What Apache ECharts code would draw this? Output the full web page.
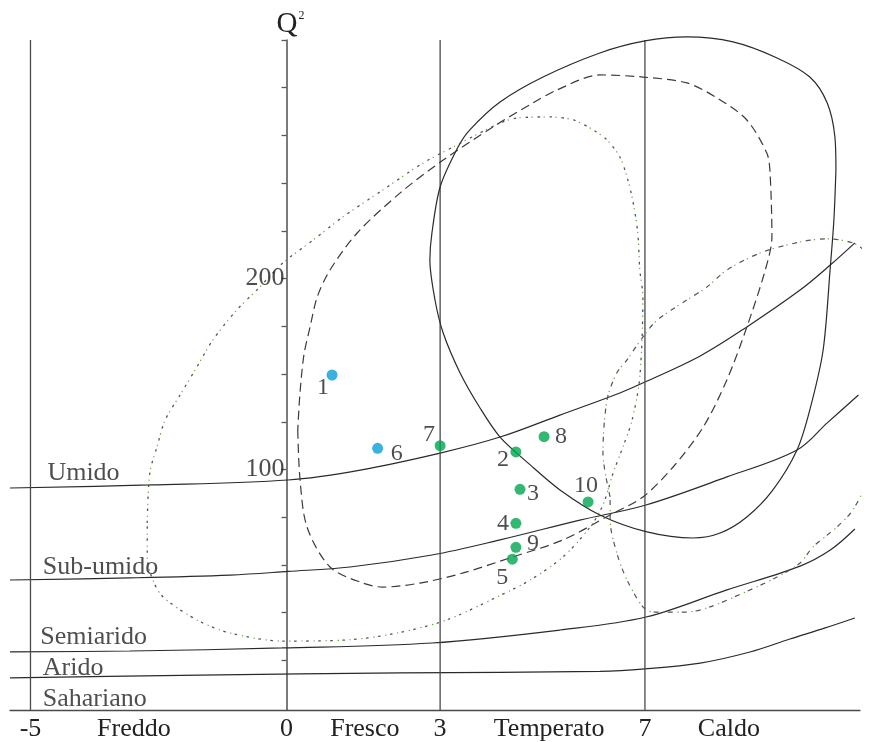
<!DOCTYPE html>
<html><head><meta charset="utf-8">
<script src="https://cdn.jsdelivr.net/npm/echarts@6/dist/echarts.min.js"></script>
<style>html,body{margin:0;padding:0;background:#fff}#c{width:876px;height:742px}</style>
</head><body><div id="c"></div><script>
// ---- axes ----
const xMin = -5.4, xMax = 11.2, yMin = -26, yMax = 325;
const yTickValues = [0,25,50,75,100,125,150,175,200,225,250,275,300,325];
const yLabelValues = [100, 200];
const xLabelValues = [-5, -2.98, 0, 1.53, 3, 5.13, 7, 8.64];
const xLabelTexts  = ['-5', 'Freddo', '0', 'Fresco', '3', 'Temperato', '7', 'Caldo'];
const zoneBounds = [-5, 3, 7];

// ---- bioclimatic boundary curves (x = m, y = Q2) ----
const umidoCurve = [[-5.40,90.3],[-2.67,91.9],[0.03,94.5],[1.44,99.7],[3.00,108.6],[4.17,117.0],[5.34,128.5],[6.51,140.1],[7.00,145.8],[8.08,159.5],[8.99,174.7],[10.03,194.0],[10.62,207.1],[11.10,218.7]];
const subUmidoCurve = [[-5.40,42.1],[-3.06,43.2],[-1.10,44.7],[0.03,46.6],[1.24,48.9],[2.84,55.2],[4.17,63.1],[5.73,73.5],[7.02,81.4],[8.60,96.1],[9.97,110.2],[10.56,124.4],[11.17,139.0]];
const semiaridoCurve = [[-5.40,4.4],[-3.06,4.9],[-0.09,6.5],[2.84,9.1],[5.34,15.9],[7.02,22.7],[8.60,36.9],[10.03,49.4],[10.62,57.8],[11.10,68.8]];
const aridoCurve = [[-5.40,-9.2],[-1.69,-7.7],[2.22,-6.6],[6.12,-5.8],[7.00,-4.5],[8.08,-1.4],[9.05,4.4],[9.83,11.2],[10.52,17.0],[11.10,22.2]];

// ---- climatic envelopes ----
const solidLoop = [[10.73,256.9],[10.71,274.2],[10.56,292.0],[10.22,305.6],[9.58,315.6],[8.72,324.0],[7.82,326.6],[7.00,324.5],[6.12,318.2],[5.01,305.6],[4.17,292.5],[3.58,277.9],[3.35,268.9],[3.00,248.0],[2.84,223.9],[2.80,209.7],[2.90,188.8],[3.06,171.5],[3.39,150.6],[3.78,132.2],[4.17,117.0],[4.76,102.4],[5.34,89.3],[6.12,76.2],[7.04,67.3],[7.94,64.1],[8.47,66.7],[8.99,75.1],[9.50,89.3],[9.97,110.2],[10.22,131.2],[10.48,162.6],[10.62,206.1],[10.69,230.7],[10.73,256.9]];
const dashedLoop = [[0.22,120.7],[0.26,96.1],[0.40,69.9],[0.85,48.9],[1.49,40.5],[1.88,38.4],[2.61,40.5],[3.45,45.8],[4.42,54.2],[5.40,63.1],[6.32,76.2],[6.96,85.6],[7.55,101.3],[8.14,122.3],[8.60,146.9],[8.99,174.6],[9.35,204.5],[9.48,221.8],[9.44,256.9],[9.38,265.8],[8.99,283.1],[8.41,294.6],[7.82,302.5],[6.96,305.6],[6.12,306.7],[5.28,298.8],[4.81,292.0],[4.03,279.4],[3.06,262.1],[2.22,244.9],[1.38,223.9],[0.85,204.5],[0.60,190.4],[0.46,174.6],[0.34,160.0],[0.26,139.0],[0.22,120.7]];
const dottedLoop = [[-2.72,72.0],[-2.67,98.2],[-2.53,111.8],[-2.37,125.9],[-2.08,139.0],[-1.75,153.7],[-1.44,167.8],[-0.97,183.6],[-0.58,194.0],[-0.07,208.2],[0.52,220.2],[1.10,232.3],[1.88,246.4],[2.67,260.6],[3.25,268.9],[4.17,281.5],[4.50,284.1],[5.15,284.7],[5.60,283.1],[5.99,277.9],[6.26,272.6],[6.51,263.7],[6.65,253.2],[6.76,241.2],[6.86,223.9],[6.90,204.5],[6.96,190.4],[6.90,148.5],[6.75,125.9],[6.57,111.8],[6.38,98.2],[6.18,81.4],[5.93,69.9],[5.40,54.2],[4.76,42.1],[4.11,33.2],[3.13,21.2],[2.16,14.3],[1.18,10.7],[-0.07,10.1],[-1.10,14.3],[-1.75,21.2],[-2.41,33.2],[-2.61,42.1],[-2.72,54.2],[-2.72,72.0]];
const dashDotLoop = [[6.32,85.6],[6.18,108.6],[6.26,136.4],[6.45,150.6],[6.65,157.4],[6.96,169.4],[7.24,178.3],[7.82,188.8],[8.21,195.6],[8.60,204.5],[9.25,213.4],[10.03,219.2],[10.56,220.8],[11.06,218.7],[11.34,213.4],[11.53,206.1],[11.69,188.8],[11.75,157.4],[11.63,131.2],[11.45,119.1],[11.34,94.5],[11.06,78.8],[10.75,69.9],[10.28,59.4],[10.03,51.0],[9.58,43.7],[8.92,35.3],[8.27,28.0],[7.82,25.3],[7.16,25.3],[6.96,28.0],[6.65,42.1],[6.45,56.3],[6.32,73.5],[6.32,85.6]];

// ---- stations ----
const stationIds   = ['1','6','7','2','8','3','10','4','9','5'];
const stationM     = [0.89, 1.78, 3.00, 4.48, 5.03, 4.56, 5.89, 4.48, 4.48, 4.41];
const stationQ2    = [149.5, 111.1, 112.5, 109.2, 117.2, 89.6, 83.0, 71.8, 59.2, 53.0];
const stationGroup = ['A','A','B','B','B','B','B','B','B','B'];

// ---- zone names ----
const zoneNames = ['Umido','Sub-umido','Semiarido','Arido','Sahariano'];
const zoneNameX = [-4.67, -4.76, -4.81, -4.76, -4.76];
const zoneNameY = [98.2, 48.9, 12.2, -4.0, -20.2];

// ---- styles ----
const FONT = 'Liberation Serif';
const TXT = '#222';
const groupColor = { A: '#0a9ddb', B: '#00a651' };
const labelOffset = { '1':[-9,13], '6':[19,5], '7':[-11,-11], '2':[-13,8], '8':[17,0], '3':[13,4], '10':[-2,-16], '4':[-13,0], '9':[17,-4], '5':[-10,19] };

const series = [];
function curve(data, style, smooth) {
  series.push({ type: 'line', data, smooth: smooth == null ? 0.35 : smooth, showSymbol: false, symbol: 'none',
    clip: false, silent: true, lineStyle: style, z: 2 });
}
[umidoCurve, subUmidoCurve, semiaridoCurve, aridoCurve].forEach(c => curve(c, { color: '#2a2a2a', width: 1.2 }));
zoneBounds.forEach(b => curve([[b, yMin], [b, yMax]], { color: '#4a4a4a', width: 1.3 }, false));
curve(solidLoop, { color: '#2a2a2a', width: 1.2 }, 0.3);
curve(dashedLoop, { color: '#3a3a3a', width: 1.2, type: [9, 5] }, 0.3);
curve(dottedLoop, { color: '#555', width: 1.3, type: [2.5, 9.5] }, 0.3);
curve(dottedLoop, { color: '#58a838', width: 1.1, type: [1.3, 10.7], dashOffset: -6 }, 0.3);
curve(dashDotLoop, { color: '#555', width: 1.2, type: [5, 9] }, 0.3);
curve(dashDotLoop, { color: '#58a838', width: 1.1, type: [1.3, 12.7], dashOffset: -8 }, 0.3);

series.push({
  type: 'scatter', z: 5, clip: false, silent: true,
  data: stationIds.map((id, i) => ({
    name: id, value: [stationM[i], stationQ2[i]],
    itemStyle: { color: groupColor[stationGroup[i]] },
    label: { offset: labelOffset[id] }
  })),
  symbolSize: 11,
  label: { show: true, position: 'inside', formatter: p => p.name, color: TXT, fontFamily: FONT, fontSize: 24 }
});
series.push({
  type: 'scatter', z: 5, clip: false, silent: true, symbolSize: 0,
  data: zoneNames.map((n, i) => ({ name: n, value: [zoneNameX[i], zoneNameY[i]] })),
  label: { show: true, position: 'right', distance: 0, formatter: p => p.name, color: TXT, fontFamily: FONT, fontSize: 26 }
});
// y-axis value labels placed beside the Q2 axis (x = 0)
series.push({
  type: 'scatter', z: 5, clip: false, silent: true, symbolSize: 0,
  data: yLabelValues.map(v => ({ name: String(v), value: [0, v] })),
  label: { show: true, position: 'left', distance: 2, formatter: p => p.name, color: TXT, fontFamily: FONT, fontSize: 26 }
});

const chart = echarts.init(document.getElementById('c'), null, { renderer: 'canvas' });
chart.setOption({
  animation: false,
  backgroundColor: '#fff',
  grid: { left: 10, right: 16, top: 40, bottom: 32, containLabel: false, outerBoundsMode: 'none' },
  xAxis: {
    type: 'value', min: xMin, max: xMax,
    axisLine: { onZero: false, lineStyle: { color: '#4a4a4a', width: 1.3 } },
    axisTick: { show: false },
    splitLine: { show: false },
    axisLabel: {
      customValues: xLabelValues, margin: 6, color: TXT, fontFamily: FONT, fontSize: 26,
      formatter: v => { const i = xLabelValues.findIndex(t => Math.abs(t - v) < 1e-6); return i >= 0 ? xLabelTexts[i] : ''; }
    }
  },
  yAxis: {
    type: 'value', min: yMin, max: yMax,
    name: '{q|Q}{s|2}', nameLocation: 'end', nameGap: 1,
    nameTextStyle: { padding: [0, 0, 0, 8], rich: {
      q: { fontFamily: FONT, fontSize: 29, color: TXT },
      s: { fontFamily: FONT, fontSize: 12, color: TXT, verticalAlign: 'top', padding: [0, 0, 16, 1] }
    } },
    axisLine: { onZero: true, lineStyle: { color: '#5a5a5a', width: 1.6 } },
    axisTick: { customValues: yTickValues, length: 5, lineStyle: { color: '#5a5a5a', width: 1.3 } },
    splitLine: { show: false },
    axisLabel: { show: false }
  },
  series
});
</script></body></html>
